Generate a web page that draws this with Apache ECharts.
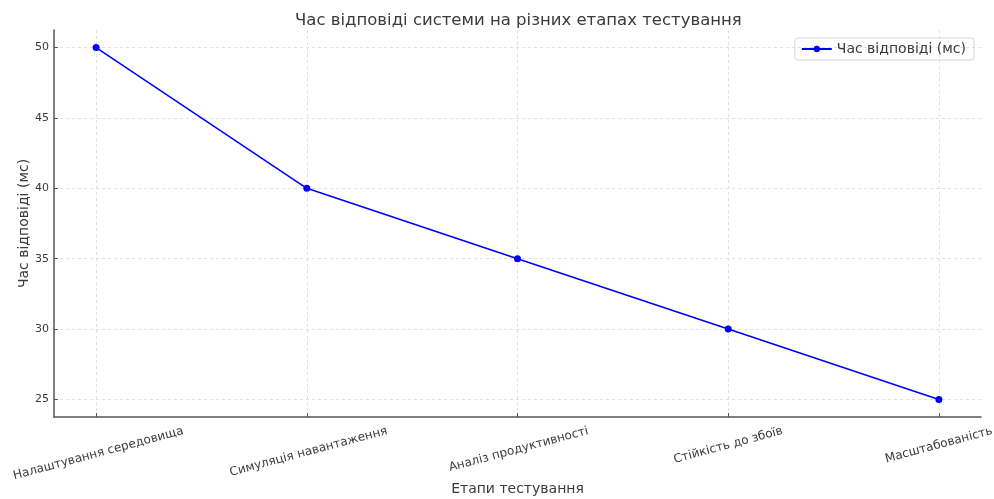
<!DOCTYPE html>
<html lang="uk">
<head>
<meta charset="UTF-8">
<title>Час відповіді системи</title>
<script src="https://cdn.jsdelivr.net/npm/echarts@6/dist/echarts.min.js"></script>
<style>
  html, body { margin: 0; height: 100%; background: #fff; }
  #main { width: 994px; height: 499px; }
</style>
</head>
<body>
<div id="main"></div>
<script>
// дані
var stages = ['Налаштування середовища', 'Симуляція навантаження', 'Аналіз продуктивності', 'Стійкість до збоїв', 'Масштабованість'];
var responseTimes = [50, 40, 35, 30, 25];
var yTicks = [25, 30, 35, 40, 45, 50];
var xTicks = [0, 1, 2, 3, 4];

var chart = echarts.init(document.getElementById('main'));
var font = 'DejaVu Sans';
var txt = '#3a3a3a';

// повернуті підписи як у matplotlib: центр під поділкою, вся рамка нижче осі
var ROT = 15, LBL_SIZE = 12, LINE_H = 14, GAP = 7;
var ctx = document.createElement('canvas').getContext('2d');
ctx.font = LBL_SIZE + 'px "' + font + '"';
var sin = Math.sin(ROT * Math.PI / 180), cos = Math.cos(ROT * Math.PI / 180);
var halfH = stages.map(function (s) {
  return (ctx.measureText(s).width * sin + LINE_H * cos) / 2;
});
var baseMargin = GAP + Math.min.apply(null, halfH);
var rich = {};
stages.forEach(function (s, i) {
  var pad = 2 * (GAP + halfH[i] - baseMargin) / cos;
  rich['p' + i] = { padding: [pad, 0, 0, 0], fontFamily: font, fontSize: LBL_SIZE, color: txt, lineHeight: LINE_H };
});

var option = {
  backgroundColor: '#fff',
  textStyle: { fontFamily: font },
  title: {
    text: 'Час відповіді системи на різних етапах тестування',
    left: 290, top: 7,
    textStyle: { fontFamily: font, fontSize: 16.5, fontWeight: 'normal', color: txt }
  },
  legend: {
    right: 20, top: 38,
    padding: [4, 8, 4, 6],
    borderColor: '#d8d8d8', borderWidth: 1, borderRadius: 3,
    itemWidth: 30, itemHeight: 8, itemGap: 10,
    textStyle: { fontFamily: font, fontSize: 14, color: txt },
    data: ['Час відповіді (мс)']
  },
  grid: { left: 54, right: 13, top: 30, bottom: 82, containLabel: false, outerBoundsMode: 'none' },
  xAxis: {
    type: 'value', min: -0.2, max: 4.2,
    name: 'Етапи тестування', nameLocation: 'middle', nameGap: 65, nameMoveOverlap: false,
    nameTextStyle: { fontFamily: font, fontSize: 14, color: txt },
    axisLine: { show: true, onZero: false, lineStyle: { color: '#555', width: 1.5 } },
    axisTick: { show: true, inside: true, length: 4, customValues: xTicks, lineStyle: { color: '#555' } },
    axisLabel: {
      customValues: xTicks, rotate: ROT, margin: baseMargin,
      align: 'center', verticalAlign: 'middle',
      fontFamily: font, fontSize: LBL_SIZE, color: txt, rich: rich,
      formatter: function (v) { var i = Math.round(v); return '{p' + i + '|' + stages[i] + '}'; }
    },
    splitLine: { show: true, lineStyle: { color: '#d9d9d9', type: [3, 3], width: 0.8 } }
  },
  yAxis: {
    type: 'value', min: 23.75, max: 51.25,
    name: 'Час відповіді (мс)', nameLocation: 'middle', nameGap: 23, nameMoveOverlap: false,
    nameTextStyle: { fontFamily: font, fontSize: 14, color: txt },
    axisLine: { show: true, onZero: false, lineStyle: { color: '#555', width: 1.5 } },
    axisTick: { show: true, inside: true, length: 4, customValues: yTicks, lineStyle: { color: '#555' } },
    axisLabel: { customValues: yTicks, margin: 5, fontFamily: font, fontSize: 11, color: txt },
    splitLine: { show: true, lineStyle: { color: '#d9d9d9', type: [3, 3], width: 0.8 } }
  },
  series: [{
    name: 'Час відповіді (мс)',
    type: 'line',
    data: responseTimes.map(function (v, i) { return [i, v]; }),
    symbol: 'circle', symbolSize: 7,
    itemStyle: { color: '#0000ff' },
    lineStyle: { color: '#0000ff', width: 1.6 },
    animation: false
  }]
};
chart.setOption(option);
</script>
</body>
</html>
